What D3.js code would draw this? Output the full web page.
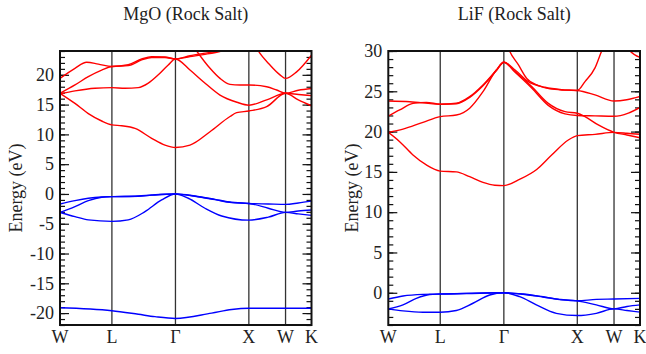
<!DOCTYPE html>
<html><head><meta charset="utf-8">
<script src="https://cdn.jsdelivr.net/npm/d3@7"></script>
<style>
body{margin:0;background:#fff}
svg text{font-family:"Liberation Serif","Times New Roman",serif !important;fill:#222}
</style>
</head><body>
<svg id="c" width="646" height="354"></svg>
<script>
// High-symmetry path (cumulative |k| in units of 2π/a) and labels
const kPoints = [0, 0.7071, 1.5731, 2.5731, 3.0731, 3.4267];
const kLabels = ["W", "L", "Γ", "X", "W", "K"];

const mgoTitle = "MgO (Rock Salt)";
const lifTitle = "LiF (Rock Salt)";
const mgoRange = [-22, 24];
const lifRange = [-4, 30];
const mgoTicks = [-20, -15, -10, -5, 0, 5, 10, 15, 20];
const lifTicks = [0, 5, 10, 15, 20, 25, 30];

// MgO bands: [k, E(eV)]
const mgoConduction = [
  [[0,16.9],[0.204,15.2],[0.386,13.5],[0.568,12.25],[0.7071,11.6],[0.84,11.45],[1.022,11.0],[1.249,9.35],[1.43,8.2],[1.5731,7.8],[1.771,8.2],[2.044,10.45],[2.316,13.0],[2.407,13.65],[2.5731,13.93],[2.816,14.65],[3.0731,16.9],[3.247,15.8],[3.4267,14.8]],
  [[0,16.8],[0.204,17.3],[0.477,17.75],[0.7071,17.85],[0.886,17.75],[1.067,17.85],[1.203,18.6],[1.34,20.0],[1.475,21.65],[1.5731,22.65],[1.771,20.8],[1.953,18.85],[2.18,16.6],[2.41,15.4],[2.5731,14.9],[2.816,15.8],[3.0731,16.9],[3.25,16.7],[3.4267,16.5]],
  [[1.60,28],[1.75,26],[1.862,24.0],[2.044,21.1],[2.18,19.4],[2.316,18.4],[2.452,18.3],[2.5731,18.3],[2.816,18.0],[2.952,17.45],[3.0731,16.9],[3.247,17.4],[3.4267,17.7]],
  [[0,16.9],[0.204,18.3],[0.386,19.7],[0.568,20.8],[0.7071,21.4],[0.93,21.55],[1.113,22.5],[1.249,22.9],[1.43,22.9],[1.5731,22.65],[1.771,23.05],[1.953,23.4],[2.2,24.0],[2.5731,26],[3.0731,28]],
  [[0,19.4],[0.204,21.1],[0.363,22.1],[0.522,21.8],[0.7071,21.4],[0.93,21.7],[1.113,22.65],[1.249,23.05],[1.43,23.0],[1.5731,22.65],[1.771,23.2],[1.953,23.6],[2.15,24.0],[2.5731,26.5],[3.0731,28.5]],
  [[2.5731,27],[2.702,24.0],[2.861,21.65],[2.997,20.0],[3.0731,19.4],[3.224,20.5],[3.4267,23.3]]
];
const mgoValence = [
  [[0,-1.7],[0.204,-1.12],[0.386,-0.72],[0.568,-0.5],[0.7071,-0.45],[1.067,-0.34],[1.25,-0.17],[1.5731,0],[1.839,-0.34],[2.112,-0.9],[2.339,-1.4],[2.5731,-1.6],[2.838,-1.68],[3.0731,-1.75],[3.247,-1.51],[3.4267,-1.2]],
  [[0,-3.1],[0.204,-2.13],[0.386,-1.12],[0.568,-0.55],[0.7071,-0.45],[1.067,-0.38],[1.25,-0.2],[1.5731,0],[1.839,-0.38],[2.112,-0.95],[2.339,-1.45],[2.5731,-1.6],[2.838,-2.4],[3.0731,-3.1],[3.247,-2.85],[3.4267,-2.7]],
  [[0,-3.1],[0.204,-3.8],[0.386,-4.35],[0.7071,-4.6],[0.93,-4.35],[1.158,-2.97],[1.385,-1.0],[1.5731,0],[1.748,-0.72],[1.975,-2.4],[2.203,-3.7],[2.5731,-4.4],[2.838,-3.9],[3.0731,-3.1],[3.247,-3.35],[3.4267,-3.6]],
  [[0,-19.1],[0.7071,-19.6],[1.067,-20.2],[1.294,-20.6],[1.5731,-20.9],[2.066,-20.0],[2.339,-19.4],[2.5731,-19.2],[3.0731,-19.2],[3.4267,-19.2]]
];

// LiF bands: [k, E(eV)]
const lifConduction = [
  [[0,19.9],[0.155,18.75],[0.336,17.1],[0.518,15.86],[0.7071,15.1],[0.926,15.0],[1.108,14.4],[1.289,13.7],[1.45,13.35],[1.5731,13.3],[1.793,14.1],[2.02,15.3],[2.224,17.1],[2.451,18.96],[2.5731,19.5],[2.814,19.66],[3.0731,19.9],[3.25,19.8],[3.4267,19.66]],
  [[0,19.9],[0.2,20.3],[0.472,21.15],[0.7071,21.85],[0.926,22.06],[1.108,22.9],[1.289,24.95],[1.47,27.64],[1.5731,28.6],[1.726,27.35],[1.952,25.4],[2.178,23.25],[2.406,22.2],[2.5731,22.0],[2.814,21.95],[3.0731,21.9],[3.268,22.3],[3.4267,23.0]],
  [[0,23.8],[0.294,23.71],[0.7071,23.39],[0.926,23.51],[1.108,24.33],[1.289,25.78],[1.47,27.6],[1.5731,28.6],[1.726,27.65],[1.906,26.2],[2.133,25.5],[2.36,25.2],[2.5731,25.1],[2.814,24.55],[3.0731,23.8],[3.246,23.95],[3.4267,24.35]],
  [[0,21.93],[0.155,22.68],[0.336,23.5],[0.518,23.63],[0.7071,23.39],[0.926,23.45],[1.108,24.25],[1.289,25.7],[1.47,27.55],[1.5731,28.6],[1.726,27.45],[1.952,25.6],[2.178,23.5],[2.406,22.47],[2.5731,22.27],[2.678,21.85],[2.859,20.82],[3.0731,19.91],[3.25,19.58],[3.4267,19.24]],
  [[1.5731,32],[1.651,30],[1.77,28.3],[1.884,26.6],[2.042,25.7],[2.2,25.3],[2.4,25.15],[2.5731,25.1],[2.678,26.2],[2.814,27.9],[2.905,30],[3.0731,33]],
  [[3.15,32],[3.29,30],[3.4267,29.2]]
];
const lifValence = [
  [[0,-0.78],[0.2,-0.4],[0.472,-0.2],[0.7071,-0.16],[1.062,-0.08],[1.5731,0],[1.834,-0.16],[2.106,-0.5],[2.333,-0.82],[2.5731,-1.0],[2.832,-0.82],[3.0731,-0.78],[3.4267,-0.7]],
  [[0,-2.0],[0.2,-1.5],[0.381,-0.7],[0.563,-0.22],[0.7071,-0.16],[1.062,-0.1],[1.5731,0],[1.834,-0.18],[2.106,-0.52],[2.333,-0.85],[2.5731,-1.0],[2.832,-1.5],[3.0731,-2.0],[3.25,-1.7],[3.4267,-1.5]],
  [[0,-2.0],[0.2,-2.25],[0.472,-2.42],[0.7071,-2.42],[0.926,-2.2],[1.153,-1.3],[1.38,-0.28],[1.5731,0],[1.789,-0.49],[2.015,-1.5],[2.287,-2.55],[2.5731,-2.83],[2.832,-2.55],[3.0731,-2.0],[3.25,-2.2],[3.4267,-2.4]]
];

const SERIF = '"Liberation Serif", "Times New Roman", serif';
const svg = d3.select("#c").style("font-family", SERIF);
const FS = 18;

function txt(sel) {
  return sel.style("font-family", SERIF).attr("font-family", SERIF).attr("font-size", FS).attr("fill", "#222");
}

function drawPanel(id, left, width, top, height, yRange, yTicks, title, labelX, cond, val) {
  const g = svg.append("g");
  const x = d3.scaleLinear().domain([kPoints[0], kPoints[kPoints.length-1]]).range([left, left + width]);
  const y = d3.scaleLinear().domain(yRange).range([top + height, top]);

  g.append("clipPath").attr("id", "clip" + id).append("rect")
    .attr("x", left).attr("y", top).attr("width", width).attr("height", height);

  // vertical high-symmetry lines
  g.selectAll("line.sym").data(kPoints.slice(1, -1)).enter().append("line")
    .attr("x1", d => x(d)).attr("x2", d => x(d)).attr("y1", top).attr("y2", top + height)
    .attr("stroke", "#333").attr("stroke-width", 1.3);

  // ticks (inward) on both sides
  const minor = d3.range(Math.ceil(yRange[0]), Math.floor(yRange[1]) + 1);
  const yAxisL = d3.axisRight(y).tickValues(minor).tickSize(5).tickFormat("");
  const yAxisR = d3.axisLeft(y).tickValues(minor).tickSize(5).tickFormat("");
  const majL = d3.axisRight(y).tickValues(yTicks).tickSize(9).tickFormat("");
  const majR = d3.axisLeft(y).tickValues(yTicks).tickSize(9).tickFormat("");
  [[yAxisL, left], [majL, left], [yAxisR, left + width], [majR, left + width]].forEach(([ax, tx]) => {
    const a = g.append("g").attr("transform", `translate(${tx},0)`).call(ax);
    a.select(".domain").remove();
    a.selectAll("text").remove();
    a.selectAll("line").attr("stroke", "#111").attr("stroke-width", 1.2);
  });

  // tick labels
  txt(g.selectAll("text.yt").data(yTicks).enter().append("text")
    .attr("x", left - 6).attr("y", d => y(d)).attr("dy", "0.35em")
    .attr("text-anchor", "end").text(d => d));

  // bands
  const line = d3.line().x(d => x(d[0])).y(d => y(d[1])).curve(d3.curveMonotoneX);
  const bands = g.append("g").attr("clip-path", `url(#clip${id})`);
  bands.selectAll("path.c").data(cond).enter().append("path")
    .attr("d", line).attr("fill", "none").attr("stroke", "#ff0000").attr("stroke-width", 1.4);
  bands.selectAll("path.v").data(val).enter().append("path")
    .attr("d", line).attr("fill", "none").attr("stroke", "#0000ff").attr("stroke-width", 1.4);

  // frame
  g.append("rect").attr("x", left).attr("y", top).attr("width", width).attr("height", height)
    .attr("fill", "none").attr("stroke", "#111").attr("stroke-width", 2);

  // x labels
  txt(g.selectAll("text.xl").data(kPoints).enter().append("text")
    .attr("x", d => x(d)).attr("y", top + height + 18).attr("text-anchor", "middle")
    .text((d, i) => kLabels[i]));

  // title
  txt(g.append("text").attr("x", left + width / 2).attr("y", 20).attr("text-anchor", "middle")
    .text(title));

  // y axis label
  txt(g.append("text").attr("transform", `translate(${labelX},${top + height / 2}) rotate(-90)`)
    .attr("dy", "0.35em").attr("text-anchor", "middle").text("Energy (eV)"));
}

drawPanel("m", 60, 251.5, 51, 274, mgoRange, mgoTicks, mgoTitle, 16, mgoConduction, mgoValence);
drawPanel("l", 388.3, 251.7, 51, 274, lifRange, lifTicks, lifTitle, 352, lifConduction, lifValence);
</script>
</body></html>
